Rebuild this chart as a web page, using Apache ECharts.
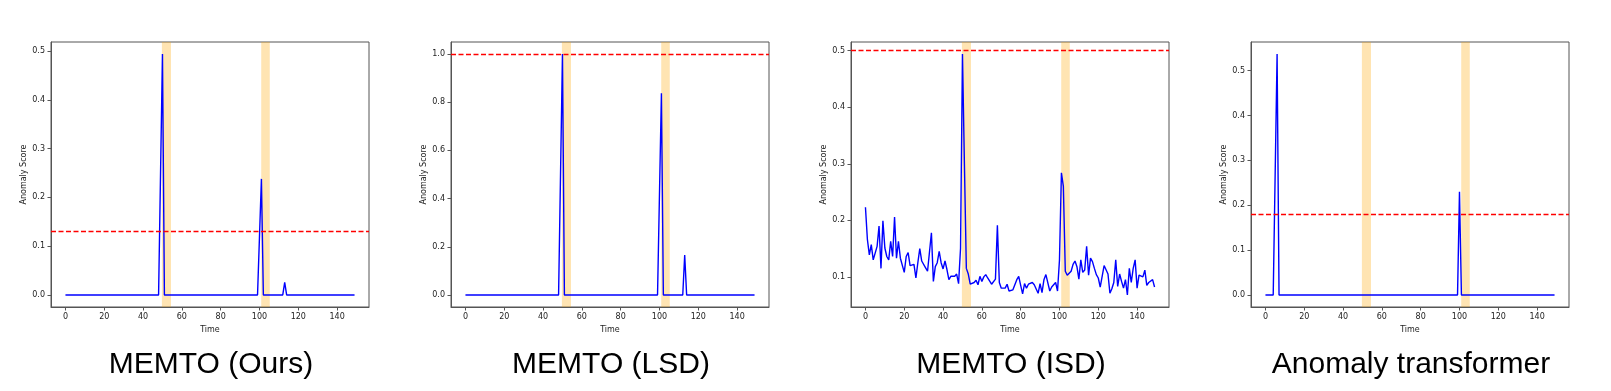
<!DOCTYPE html>
<html><head><meta charset="utf-8">
<script src="https://cdn.jsdelivr.net/npm/echarts@6/dist/echarts.min.js"></script>
<style>html,body{margin:0;padding:0;background:#fff}#c{width:1611px;height:391px}</style>
</head><body><div id="c"></div>
<script>
const panelTitles = ['MEMTO (Ours)', 'MEMTO (LSD)', 'MEMTO (ISD)', 'Anomaly transformer'];
const xTicks = [0, 20, 40, 60, 80, 100, 120, 140];
const yTicksOurs = [0, 0.1, 0.2, 0.3, 0.4, 0.5];
const yTicksLSD = [0, 0.2, 0.4, 0.6, 0.8, 1.0];
const yTicksISD = [0.1, 0.2, 0.3, 0.4, 0.5];
const yTicksAT = [0, 0.1, 0.2, 0.3, 0.4, 0.5];
const thresholds = [0.134, 1.0, 0.503, 0.179];
const anomalyWindows = [[49.7, 54.4], [100.9, 105.3]];
const numSteps = 150;
// sparse scores: [time index, score], all other steps are 0
const oursSpikes = [[50, 0.494], [101, 0.238], [113, 0.026]];
const lsdSpikes = [[50, 1.0], [101, 0.837], [113, 0.166]];
const atSpikes = [[6, 0.537], [100, 0.230]];
const isdScores = [
  0.223,0.166,0.139,0.157,0.130,0.142,0.154,0.190,0.115,0.199,
  0.151,0.136,0.130,0.163,0.136,0.206,0.133,0.163,0.133,0.132,
  0.108,0.136,0.143,0.120,0.120,0.122,0.098,0.125,0.150,0.128,
  0.125,0.116,0.110,0.113,0.178,0.092,0.118,0.125,0.145,0.125,
  0.114,0.128,0.113,0.095,0.101,0.100,0.101,0.105,0.088,0.150,
  0.494,0.300,0.115,0.105,0.087,0.090,0.090,0.094,0.086,0.101,
  0.092,0.100,0.104,0.098,0.097,0.087,0.086,0.096,0.191,0.090,
  0.080,0.078,0.080,0.087,0.075,0.078,0.077,0.078,0.095,0.101,
  0.085,0.070,0.088,0.080,0.087,0.090,0.090,0.086,0.085,0.071,
  0.088,0.072,0.095,0.104,0.104,0.075,0.082,0.085,0.090,0.075,
  0.130,0.284,0.260,0.110,0.103,0.103,0.110,0.122,0.128,0.118,
  0.096,0.130,0.108,0.112,0.154,0.103,0.133,0.127,0.115,0.104,
  0.098,0.082,0.080,0.120,0.122,0.105,0.071,0.079,0.090,0.130,
  0.083,0.105,0.092,0.080,0.095,0.068,0.115,0.090,0.115,0.130,
  0.080,0.103,0.106,0.100,0.112,0.085,0.090,0.088,0.095,0.082
];

function fromSpikes(spikes) {
  const arr = new Array(numSteps).fill(0);
  spikes.forEach(([i, v]) => { arr[i] = v; });
  return arr;
}
const panelScores = [fromSpikes(oursSpikes), fromSpikes(lsdSpikes), isdScores, fromSpikes(atSpikes)];
const panelYTicks = [yTicksOurs, yTicksLSD, yTicksISD, yTicksAT];

const panelLeft = [51, 451, 851, 1251];
const gridTop = 42, gridW = 318, gridH = 265;
const axisColor = '#555';
const tickFont = { fontFamily: 'DejaVu Sans', fontSize: 8, color: '#222' };

const grids = [], xAxes = [], yAxes = [], series = [], titles = [];
panelScores.forEach((scores, k) => {
  const lo = Math.min(...scores), hi = Math.max(...scores);
  const pad = (hi - lo) * 0.05;
  const xpad = (numSteps - 1) * 0.05;
  grids.push({ left: panelLeft[k], top: gridTop, width: gridW, height: gridH,
    show: true, borderColor: axisColor, borderWidth: 1, backgroundColor: 'transparent' });
  xAxes.push({ type: 'value', gridIndex: k, min: -xpad, max: numSteps - 1 + xpad,
    name: 'Time', nameLocation: 'middle', nameGap: 16,
    nameTextStyle: { fontFamily: 'DejaVu Sans', fontSize: 8, color: '#222' },
    axisLine: { show: true, onZero: false, lineStyle: { color: axisColor, width: 1 } },
    axisTick: { show: true, length: 3.5, customValues: xTicks, lineStyle: { color: axisColor } },
    axisLabel: Object.assign({ customValues: xTicks, margin: 6, formatter: v => String(Math.round(v)) }, tickFont),
    splitLine: { show: false } });
  yAxes.push({ type: 'value', gridIndex: k, min: lo - pad, max: hi + pad,
    name: 'Anomaly Score', nameLocation: 'middle', nameGap: 22,
    nameTextStyle: { fontFamily: 'DejaVu Sans', fontSize: 8, color: '#222' },
    axisLine: { show: true, onZero: false, lineStyle: { color: axisColor, width: 1 } },
    axisTick: { show: true, length: 3.5, customValues: panelYTicks[k], lineStyle: { color: axisColor } },
    axisLabel: Object.assign({ customValues: panelYTicks[k], margin: 6, formatter: v => v.toFixed(1) }, tickFont),
    splitLine: { show: false } });
  series.push({ type: 'line', xAxisIndex: k, yAxisIndex: k, data: [], z: 1,
    markArea: { silent: true, itemStyle: { color: 'rgba(255,165,0,0.3)' },
      data: anomalyWindows.map(w => [{ xAxis: w[0] }, { xAxis: w[1] }]) } });
  series.push({ type: 'line', xAxisIndex: k, yAxisIndex: k, z: 3,
    data: scores.map((v, i) => [i, v]), showSymbol: false, symbol: 'none',
    lineStyle: { color: '#0000ff', width: 1.4 }, itemStyle: { color: '#0000ff' },
    markLine: { silent: true, symbol: ['none', 'none'], label: { show: false },
      lineStyle: { color: '#ff0000', type: [5, 2.5], width: 1.3 },
      data: [{ yAxis: thresholds[k] }] } });
  titles.push({ text: panelTitles[k], left: panelLeft[k] + 155, top: 345, textAlign: 'center',
    textStyle: { fontFamily: 'Liberation Sans', fontSize: 30, fontWeight: 'normal', color: '#000' } });
});

const chart = echarts.init(document.getElementById('c'), null, { renderer: 'canvas' });
chart.setOption({ animation: false, backgroundColor: '#fff', title: titles,
  grid: grids, xAxis: xAxes, yAxis: yAxes, series: series });
</script></body></html>
